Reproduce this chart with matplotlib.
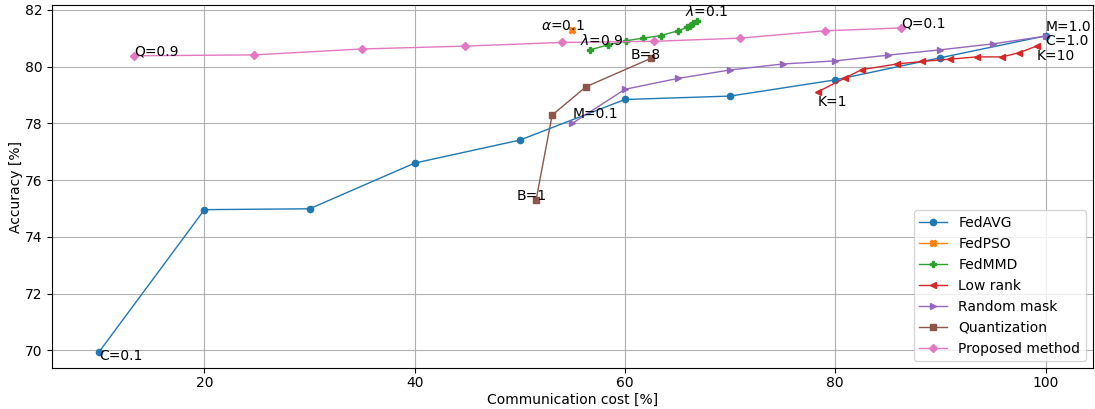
import matplotlib
matplotlib.use("Agg")
import matplotlib.pyplot as plt

# FedAVG (client fraction C = 0.1 ... 1.0)
fedavg_cost = [10, 20, 30, 40, 50, 60, 70, 80, 90, 100]
fedavg_acc = [69.96, 74.96, 74.99, 76.60, 77.41, 78.84, 78.96, 79.53, 80.31, 81.08]

# FedPSO (alpha = 0.1)
fedpso_cost = [54.94]
fedpso_acc = [81.29]

# FedMMD (lambda = 0.9 ... 0.1)
fedmmd_cost = [56.68, 58.39, 60.10, 61.71, 63.42, 65.04, 65.89, 66.18, 66.46, 66.84]
fedmmd_acc = [80.59, 80.76, 80.91, 81.00, 81.09, 81.26, 81.38, 81.44, 81.52, 81.59]

# Low rank (K = 1 ... 10)
lowrank_cost = [78.34, 80.90, 82.50, 85.85, 88.30, 90.88, 93.45, 95.90, 97.50, 99.15]
lowrank_acc = [79.11, 79.59, 79.89, 80.09, 80.18, 80.26, 80.34, 80.34, 80.49, 80.72]

# Random mask (M = 0.1 ... 1.0)
mask_cost = [55, 60, 65, 70, 75, 80, 85, 90, 95, 100]
mask_acc = [78.00, 79.20, 79.58, 79.88, 80.09, 80.20, 80.40, 80.59, 80.80, 81.07]

# Quantization (B = 1, 2, 4, 8)
quant_cost = [51.54, 53.07, 56.30, 62.47]
quant_acc = [75.29, 78.29, 79.29, 80.29]

# Proposed method (Q = 0.9 ... 0.1)
prop_cost = [13.28, 24.68, 35.00, 44.80, 54.00, 62.80, 70.90, 79.00, 86.30]
prop_acc = [80.38, 80.41, 80.62, 80.72, 80.85, 80.89, 81.00, 81.26, 81.36]

# Parameter labels: (text, x, y)
labels = [
    ("C=0.1", 10.0, 69.65),
    ("C=1.0", 100.0, 80.76),
    ("M=1.0", 100.0, 81.26),
    ("K=10", 99.2, 80.24),
    ("K=1", 78.3, 78.60),
    ("Q=0.1", 86.3, 81.36),
    ("Q=0.9", 13.35, 80.38),
    (r"$\alpha$=0.1", 52.0, 81.30),
    (r"$\lambda$=0.9", 55.7, 80.76),
    (r"$\lambda$=0.1", 65.7, 81.77),
    ("B=8", 60.55, 80.26),
    ("B=1", 49.65, 75.29),
    ("M=0.1", 55.06, 78.18),
]

fig = plt.figure(figsize=(10.95, 4.09), dpi=100)
ax = fig.add_axes([0.0475, 0.1, 0.9505, 0.888])

kw = dict(linewidth=1.0, markersize=4.5)
ax.plot(fedavg_cost, fedavg_acc, marker="o", color="C0", label="FedAVG", **kw)
ax.plot(fedpso_cost, fedpso_acc, marker="X", color="C1", label="FedPSO", **kw)
ax.plot(fedmmd_cost, fedmmd_acc, marker="P", color="C2", label="FedMMD", **kw)
ax.plot(lowrank_cost, lowrank_acc, marker="<", color="C3", label="Low rank", **kw)
ax.plot(mask_cost, mask_acc, marker=">", color="C4", label="Random mask", **kw)
ax.plot(quant_cost, quant_acc, marker="s", color="C5", label="Quantization", **kw)
ax.plot(prop_cost, prop_acc, marker="D", color="C6", label="Proposed method", **kw)

for txt, x, y in labels:
    ax.text(x, y, txt, fontsize=10, ha="left", va="baseline")

ax.tick_params(axis="x", pad=2)
ax.set_xlabel("Communication cost [%]", labelpad=2)
ax.set_ylabel("Accuracy [%]", labelpad=1)
ax.grid(True)
ax.legend(loc="lower right")

fig.savefig("out.png", dpi=100)
